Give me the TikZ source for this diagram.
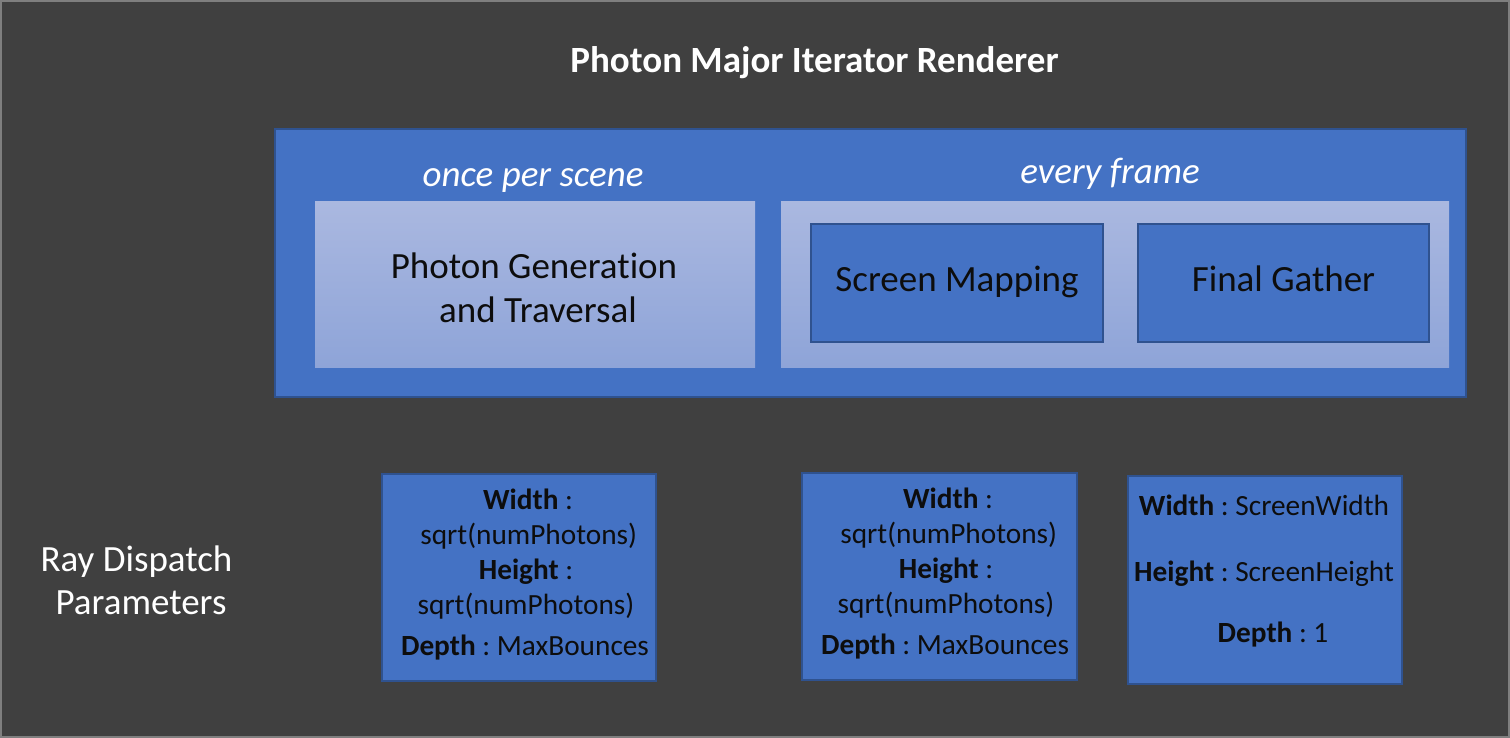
\documentclass[tikz,border=0pt]{standalone}
\usepackage{fontspec}
\setmainfont{Carlito}[Ligatures=NoCommon]
\definecolor{bgc}{HTML}{404040}
\definecolor{framec}{HTML}{7F7F7F}
\definecolor{bluec}{HTML}{4472C4}
\definecolor{blueedge}{HTML}{2F528F}
\definecolor{lighttop}{RGB}{170,184,224}
\definecolor{lightbot}{RGB}{142,164,216}
\definecolor{inkc}{HTML}{0D0D0D}
\begin{document}
\begin{tikzpicture}[x=1pt,y=-1pt,
  bluebox/.style={draw=blueedge,fill=bluec,line width=2pt,inner sep=0pt,rectangle},
  lightbox/.style={top color=lighttop,bottom color=lightbot,draw=none,inner sep=0pt,rectangle},
  big/.style={font=\fontsize{37}{44}\selectfont,inner sep=0pt,anchor=base,yshift=-2pt},
  small/.style={font=\fontsize{29.3}{35}\selectfont,inner sep=0pt,anchor=base,text=inkc,yshift=-2pt}]
\useasboundingbox (0,0) rectangle (1510,738);
\fill[bgc] (0,0) rectangle (1510,738);
\draw[framec,line width=2pt] (1,1) rectangle (1509,737);

% title
\node[big,text=white,font=\fontsize{37}{44}\selectfont\bfseries] (title) at (814.5,70.7) {Photon Major Iterator Renderer};

% main blue container
\node[bluebox,minimum width=1191pt,minimum height=268pt] (outer) at (870.5,263) {};
\node[big,text=white,font=\fontsize{37}{44}\selectfont\itshape] (once) at (533,185) {once per scene};
\node[big,text=white,font=\fontsize{37}{44}\selectfont\itshape] (every) at (1110,182) {every frame};

\node[lightbox,minimum width=440pt,minimum height=165pt] (gen) at (535,284.5) {};
\node[big,text=inkc] (genA) at (534,276) {Photon Generation};
\node[big,text=inkc] (genB) at (538,320) {and Traversal};

\node[lightbox,minimum width=668pt,minimum height=165pt] (frame) at (1115,284.5) {};
\node[bluebox,minimum width=292pt,minimum height=118pt] (map) at (957,283) {};
\node[big,text=inkc] (mapT) at (957,289) {Screen Mapping};
\node[bluebox,minimum width=291pt,minimum height=118pt] (gather) at (1283.5,283) {};
\node[big,text=inkc] (gatherT) at (1283.5,289) {Final Gather};

% side label
\node[big,text=white] (rayA) at (136.5,569) {Ray Dispatch};
\node[big,text=white] (rayB) at (141,612.7) {Parameters};

% parameter box 1
\node[bluebox,minimum width=274pt,minimum height=207pt] (p1) at (519,577.5) {};
\node[small] (p1a) at (528,507.7) {\textbf{Width}~:};
\node[small] (p1b) at (528.7,542) {sqrt(numPhotons)};
\node[small] (p1c) at (526,577) {\textbf{Height}~:};
\node[small] (p1d) at (526,612.7) {sqrt(numPhotons)};
\node[small] (p1e) at (525,653) {\textbf{Depth}~:~MaxBounces};

% parameter box 2
\node[bluebox,minimum width=275pt,minimum height=207pt] (p2) at (939.5,576.5) {};
\node[small] (p2a) at (948,506.7) {\textbf{Width}~:};
\node[small] (p2b) at (948.7,541) {sqrt(numPhotons)};
\node[small] (p2c) at (946,576) {\textbf{Height}~:};
\node[small] (p2d) at (946,611.7) {sqrt(numPhotons)};
\node[small] (p2e) at (945,652) {\textbf{Depth}~:~MaxBounces};

% parameter box 3
\node[bluebox,minimum width=274pt,minimum height=208pt] (p3) at (1265,580) {};
\node[small] (p3a) at (1264,513) {\textbf{Width}~:~ScreenWidth};
\node[small] (p3b) at (1264,579) {\textbf{Height}~:~ScreenHeight};
\node[small] (p3c) at (1273,640) {\textbf{Depth}~:~1};
\end{tikzpicture}
\end{document}
